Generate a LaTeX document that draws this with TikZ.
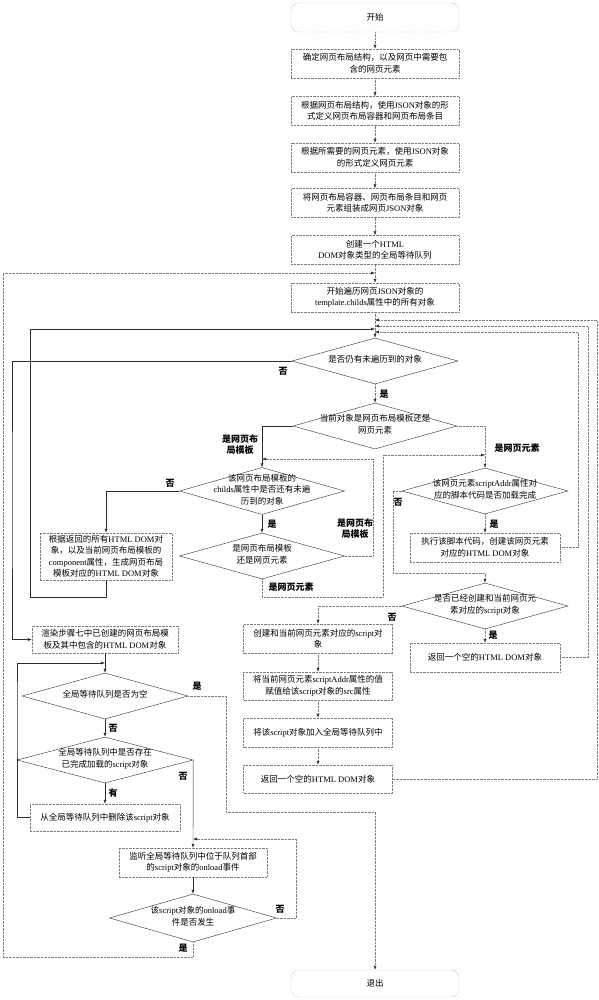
\documentclass[tikz,border=0pt]{standalone}
\usepackage{fontspec}
\setmainfont{Noto Sans CJK SC}
\newfontfamily\latfont{Liberation Serif}
\usetikzlibrary{shapes.geometric, arrows.meta, positioning, calc}
\definecolor{boxline}{RGB}{125,125,125}
\definecolor{dialine}{RGB}{45,45,45}
\newcommand{\en}[1]{{\latfont #1}}
\newcommand{\dtext}[1]{\raisebox{-2.6pt}{\smash{\makebox[0pt]{\begin{tabular}{@{}c@{}}#1\end{tabular}}}}}

\begin{document}
\begin{tikzpicture}[
    x=1pt, y=-1pt,
    font=\fontsize{8.5}{11.5}\selectfont,
    box/.style={rectangle, draw=boxline, densely dotted, align=center, inner sep=1pt,
        minimum width=168pt, minimum height=29pt},
    term/.style={box, rounded corners=8pt},
    dia/.style={diamond, draw=dialine, inner sep=0pt, minimum width=166pt, minimum height=46pt},
    link/.style={draw=boxline, densely dotted, -{Latex[length=4pt,width=3pt,color=dialine]}},
    slink/.style={draw=dialine, -{Latex[length=4pt,width=3pt]}},
    lab/.style={font=\fontsize{9}{11}\selectfont\bfseries, inner sep=0pt, align=center},
]
    \useasboundingbox (0,0) rectangle (598,1000);

    % Main column
    \node[term] (start) at (375,17.5) {开始};
    \node[box] (b1) at (375,63.5) {确定网页布局结构，以及网页中需要包\\含的网页元素};
    \node[box] (b2) at (375,111) {根据网页布局结构，使用\en{JSON}对象的形\\式定义网页布局容器和网页布局条目};
    \node[box] (b3) at (375,157.5) {根据所需要的网页元素，使用\en{JSON}对象\\的形式定义网页元素};
    \node[box] (b4) at (375,203) {将网页布局容器、网页布局条目和网页\\元素组装成网页\en{JSON}对象};
    \node[box] (b5) at (375,250) {创建一个\en{HTML}\\\en{DOM}对象类型的全局等待队列};
    \node[box] (b6) at (375,297.5) {开始遍历网页\en{JSON}对象的\\\en{template.childs}属性中的所有对象};

    % Decisions of the traversal
    \node[dia] (d1) at (375,361) {\dtext{是否仍有未遍历到的对象}};
    \node[dia, minimum width=164pt] (d2) at (375,426) {\dtext{当前对象是网页布局模板还是\\网页元素}};
    \node[dia, minimum width=165pt, minimum height=47pt] (d3) at (262,491) {\dtext{该网页布局模板的\\\en{childs}属性中是否还有未遍\\历到的对象}};
    \node[box, minimum width=132pt, minimum height=47pt] (bL) at (106,556.5) {根据返回的所有\en{HTML DOM}对\\象，以及当前网页布局模板的\\\en{component}属性，生成网页布局\\模板对应的\en{HTML DOM}对象};
    \node[dia, minimum width=165pt] (d4) at (262,556) {\dtext{是网页布局模板\\还是网页元素}};
    \node[dia] (d5) at (485,491) {\dtext{该网页元素\en{scriptAddr}属性对\\应的脚本代码是否加载完成}};
    \node[box, minimum width=150pt] (bE) at (485,547.5) {执行该脚本代码，创建该网页元素\\对应的\en{HTML DOM}对象};
    \node[dia] (d6) at (485,606) {\dtext{是否已经创建和当前网页元\\素对应的\en{script}对象}};
    \node[box, minimum width=150pt] (bR) at (485,657.5) {返回一个空的\en{HTML DOM}对象};

    % Middle column
    \node[box, minimum width=149pt] (m1) at (318,638.5) {创建和当前网页元素对应的\en{script}对\\象};
    \node[box, minimum width=149pt, minimum height=28pt] (m2) at (318,686) {将当前网页元素\en{scriptAddr}属性的值\\赋值给该\en{script}对象的\en{src}属性};
    \node[box, minimum width=149pt] (m3) at (318,732.5) {将该\en{script}对象加入全局等待队列中};
    \node[box, minimum width=149pt, minimum height=28pt] (m4) at (318,779) {返回一个空的\en{HTML DOM}对象};

    % Left column
    \node[box, minimum width=146pt, minimum height=27pt] (r1) at (105,639.5) {渲染步骤七中已创建的网页布局模\\板及其中包含的\en{HTML DOM}对象};
    \node[dia] (d7) at (105,696) {\dtext{全局等待队列是否为空}};
    \node[dia, minimum width=176pt] (d8) at (105,760) {\dtext{全局等待队列中是否存在\\已完成加载的\en{script}对象}};
    \node[box, minimum width=150pt, minimum height=27pt] (bD) at (105,817.5) {从全局等待队列中删除该\en{script}对象};
    \node[box, minimum width=148pt] (bW) at (193,862.5) {监听全局等待队列中位于队列首部\\的\en{script}对象的\en{onload}事件};
    \node[dia, minimum width=167pt, minimum height=48pt] (d9) at (193,918) {\dtext{该\en{script}对象的\en{onload}事\\件是否发生}};
    \node[term, minimum height=27pt] (exit) at (375,983.5) {退出};

    % Bend points and joins on the trunk
    \coordinate (jt0) at (375,273);
    \coordinate (jr1) at (375,320);
    \coordinate (jr2) at (375,326);
    \coordinate (jl) at (375,329);
    \coordinate (jr3) at (375,332);
    \coordinate (jd3) at (262,459);
    \coordinate (jd5) at (485,455);
    \coordinate (jd7) at (105,663);
    \coordinate (jw) at (193,839);
    \coordinate (noL) at (12,500);
    \coordinate (lpA) at (3,957);
    \coordinate (lbA) at (30,597);
    \coordinate (lpB) at (373,500);
    \coordinate (lpC) at (383,597);
    \coordinate (lpD) at (393,573);
    \coordinate (rtA) at (578,450);
    \coordinate (rtB) at (588,500);
    \coordinate (rtC) at (597,500);
    \coordinate (lpE) at (17,700);
    \coordinate (lpF) at (226,760);
    \coordinate (lpG) at (375,812);
    \coordinate (lpH) at (296,880);

    % Main flow
    \draw[link] (start) -- (b1);
    \draw[link] (b1) -- (b2);
    \draw[link] (b2) -- (b3);
    \draw[link] (b3) -- (b4);
    \draw[link] (b4) -- (b5);
    \draw[link] (b5) -- (b6);
    \draw[link] (b6) -- (d1);
    \draw[slink] (d1.west) -| (noL) |- (r1.west);
    \draw[link] (d1) -- (d2);

    % Layout template branch
    \draw[slink] (d2.west) -| (d3.north);
    \draw[slink] (d3.west) -| (bL.north);
    \draw[slink] (d3) -- (d4);
    \draw[slink] (bL.south) |- (lbA) |- (jl);
    \draw[link] (d4.east) -| (lpB) |- (jd3);
    \draw[link] (d4.south) |- (lpC) |- (jd5);

    % Page element branch
    \draw[link] (d2.east) -| (d5.north);
    \draw[link] (d5) -- (bE);
    \draw[link] (d5.west) -| (lpD) -| (d6.north);
    \draw[link] (bE.east) -| (rtA) |- (jr3);
    \draw[link] (d6.west) -| (m1.north);
    \draw[link] (d6) -- (bR);
    \draw[link] (bR.east) -| (rtB) |- (jr2);
    \draw[link] (m1) -- (m2);
    \draw[link] (m2) -- (m3);
    \draw[link] (m3) -- (m4);
    \draw[link] (m4.east) -| (rtC) |- (jr1);

    % Waiting queue
    \draw[slink] (r1) -- (d7);
    \draw[link] (d7.east) -| (lpF) |- (lpG) -- (exit.north);
    \draw[slink] (d7) -- (d8);
    \draw[slink] (d8) -- (bD);
    \draw[slink] (bD.west) -| (lpE) |- (jd7);
    \draw[slink] (d8.east) -- (bW.north);
    \draw[slink] (bW) -- (d9);
    \draw[link] (d9.east) -| (lpH) |- (jw);
    \draw[link] (d9.south) |- (lpA) |- (jt0);

    % Branch labels
    \node[lab] (l1) at (283,371) {否};
    \node[lab] (l2) at (384,394) {是};
    \node[lab] (l3) at (240,445) {是网页布\\局模板};
    \node[lab] (l4) at (517,448) {是网页元素};
    \node[lab] (l5) at (170,483) {否};
    \node[lab] (l6) at (272,524) {是};
    \node[lab] (l7) at (355,529) {是网页布\\局模板};
    \node[lab] (l8) at (291,587) {是网页元素};
    \node[lab] (l9) at (398,502) {否};
    \node[lab] (l10) at (494,524) {是};
    \node[lab] (l11) at (392,617) {否};
    \node[lab] (l12) at (493,635) {是};
    \node[lab] (l13) at (197,686) {是};
    \node[lab] (l14) at (113,728) {否};
    \node[lab] (l15) at (183,776) {否};
    \node[lab] (l16) at (113,793) {有};
    \node[lab] (l17) at (280,909) {否};
    \node[lab] (l18) at (183,948) {是};
\end{tikzpicture}
\end{document}
